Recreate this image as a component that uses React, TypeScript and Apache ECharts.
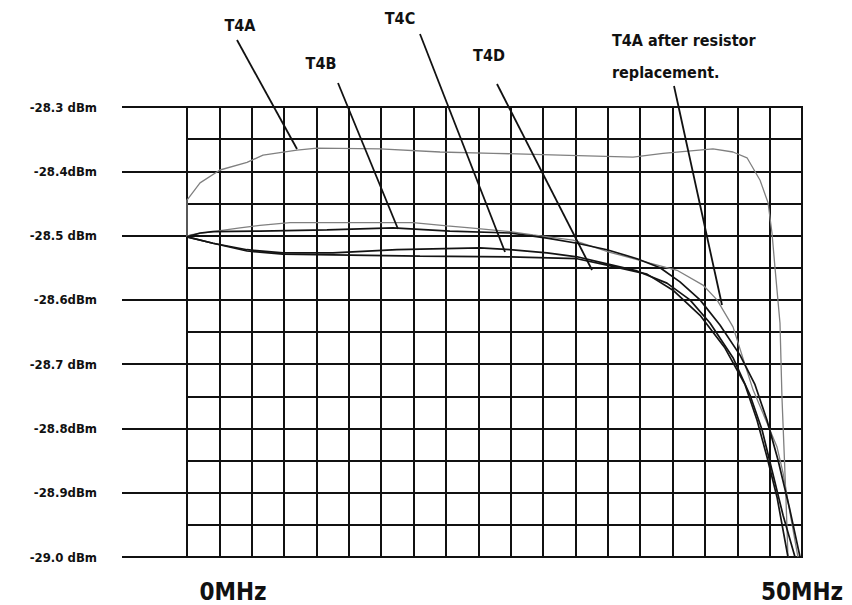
import React, { useEffect, useRef } from "react";
import * as echarts from "echarts";

const xLabels = ["0MHz", "50MHz"];
const yTickLabels = ["-29.0 dBm", "-28.9dBm", "-28.8dBm", "-28.7 dBm", "-28.6dBm", "-28.5 dBm", "-28.4dBm", "-28.3 dBm"];

const t4a = [[0,-28.502],[0,-28.445],[1.06,-28.418],[2.68,-28.398],[4.88,-28.386],[6.18,-28.375],[8.94,-28.367],[10.57,-28.364],[15.69,-28.365],[20.57,-28.370],[24.88,-28.372],[30.33,-28.375],[36.26,-28.378],[38.70,-28.372],[42.76,-28.365],[44.39,-28.370],[45.53,-28.379],[46.59,-28.414],[47.24,-28.449],[47.56,-28.496],[47.80,-28.549],[48.21,-28.636],[48.37,-28.751],[48.54,-28.833],[48.70,-28.911],[48.86,-29.0]];

const t4aAfter = [[0,-28.502],[0.24,-28.499],[2.11,-28.494],[4.31,-28.488],[5.93,-28.484],[8.37,-28.480],[18.37,-28.480],[21.14,-28.485],[23.01,-28.488],[26.26,-28.494],[28.13,-28.499],[31.38,-28.507],[34.39,-28.526],[37.64,-28.543],[39.84,-28.554],[41.95,-28.577],[43.09,-28.600],[44.39,-28.642],[46.02,-28.740],[47.15,-28.791],[47.97,-28.829],[48.46,-28.869],[49.02,-28.931],[49.67,-29.0]];

const t4b = [[0,-28.502],[1.06,-28.496],[2.11,-28.494],[5.93,-28.493],[11.38,-28.491],[16.75,-28.488],[21.38,-28.493],[26.26,-28.496],[29.27,-28.504],[31.71,-28.512],[34.15,-28.522],[36.59,-28.536],[38.46,-28.550],[40.08,-28.572],[41.71,-28.600],[43.33,-28.639],[44.96,-28.686],[46.18,-28.732],[47.15,-28.787],[48.05,-28.849],[49.02,-28.927],[49.84,-29.0]];

const t4c = [[0,-28.502],[2.11,-28.512],[4.88,-28.522],[7.80,-28.527],[11.87,-28.527],[17.07,-28.522],[23.82,-28.519],[26.26,-28.522],[29.27,-28.527],[31.71,-28.533],[34.15,-28.544],[36.59,-28.555],[39.02,-28.574],[40.89,-28.600],[42.52,-28.636],[44.39,-28.690],[45.77,-28.748],[46.75,-28.802],[47.56,-28.865],[48.46,-28.935],[49.43,-29.0]];

const t4d = [[0,-28.502],[2.11,-28.512],[4.88,-28.524],[7.80,-28.529],[11.87,-28.530],[18.94,-28.532],[26.26,-28.533],[31.71,-28.536],[34.15,-28.546],[37.40,-28.560],[39.51,-28.585],[41.71,-28.624],[43.74,-28.675],[45.37,-28.732],[46.34,-28.787],[47.15,-28.844],[47.97,-28.907],[48.86,-29.0]];

const FONT = "'DejaVu Sans Condensed', 'DejaVu Sans', sans-serif";

export default function App() {
  const ref = useRef<HTMLDivElement>(null);
  useEffect(() => {
    if (!ref.current) return;
    const chart = echarts.init(ref.current, null, { renderer: "svg" });
    const gray = (name: string, data: number[][]) => ({
      name, type: "line", data, showSymbol: false, symbol: "none", clip: true,
      lineStyle: { color: "#808080", width: 1.3 },
    });
    const black = (name: string, data: number[][]) => ({
      name, type: "line", data, showSymbol: false, symbol: "none", clip: true,
      lineStyle: { color: "#141414", width: 1.7 },
    });
    const leader = (x1: number, y1: number, x2: number, y2: number) => ({
      type: "line", shape: { x1, y1, x2, y2 }, style: { stroke: "#111", lineWidth: 1.8 }, z: 100,
    });
    const label = (text: string, x: number, y: number, size = 16, align = "center") => ({
      type: "text", x, y, z: 100,
      style: { text, fill: "#111", font: `bold ${size}px ${FONT}`, textAlign: align, textVerticalAlign: "middle" },
    });
    chart.setOption({
      animation: false,
      backgroundColor: "#ffffff",
      grid: { left: 187, right: 50, top: 107, bottom: 48, show: true, borderColor: "#111", borderWidth: 2, backgroundColor: "transparent" },
      xAxis: {
        type: "value", min: 0, max: 50, interval: 50 / 19,
        axisLine: { show: true, lineStyle: { color: "#111", width: 2 } },
        axisTick: { show: false }, axisLabel: { show: false },
        splitLine: { show: true, lineStyle: { color: "#111", width: 2 } },
      },
      yAxis: [
        {
          type: "value", min: -29, max: -28.3, interval: 0.05,
          axisLine: { show: true, lineStyle: { color: "#111", width: 2 } },
          axisTick: { show: false }, axisLabel: { show: false },
          splitLine: { show: true, lineStyle: { color: "#111", width: 2 } },
        },
        {
          type: "value", min: -29, max: -28.3, interval: 0.1, position: "left", offset: 0,
          axisLine: { show: false },
          axisTick: { show: true, inside: false, length: 65, lineStyle: { color: "#111", width: 2 } },
          splitLine: { show: false },
          axisLabel: {
            show: true, margin: 90, color: "#111", fontFamily: FONT, fontSize: 13, fontWeight: "bold",
            padding: [0, 0, 9, 0],
            formatter: (v: number) => yTickLabels[Math.round((v + 29) * 10)] ?? "",
          },
        },
      ],
      series: [
        gray("T4A", t4a),
        gray("T4A after resistor replacement.", t4aAfter),
        black("T4B", t4b),
        black("T4C", t4c),
        black("T4D", t4d),
      ],
      graphic: [
        label("T4A", 240, 25),
        label("T4B", 321, 63),
        label("T4C", 400, 18),
        label("T4D", 489, 55),
        {
          type: "text", x: 612, y: 40, z: 100,
          style: {
            text: "{b|T4A} after resistor", fill: "#111", font: `bold 16px ${FONT}`, textVerticalAlign: "middle",
            rich: { b: { fontWeight: "bold", fontSize: 16, fontFamily: FONT, fill: "#111" } },
          },
        },
        { type: "text", x: 612, y: 72, z: 100, style: { text: "replacement.", fill: "#111", font: `bold 16px ${FONT}`, textVerticalAlign: "middle" } },
        leader(237, 40, 297, 149),
        leader(338, 83, 398, 229),
        leader(420, 34, 505, 252),
        leader(497, 84, 592, 270),
        leader(674, 86, 722, 305),
        label(xLabels[0], 233, 592, 24),
        label(xLabels[1], 802, 592, 24),
      ],
    });
    return () => chart.dispose();
  }, []);
  return <div ref={ref} style={{ position: "fixed", left: 0, top: 0, width: 852, height: 605, background: "#fff" }} />;
}
